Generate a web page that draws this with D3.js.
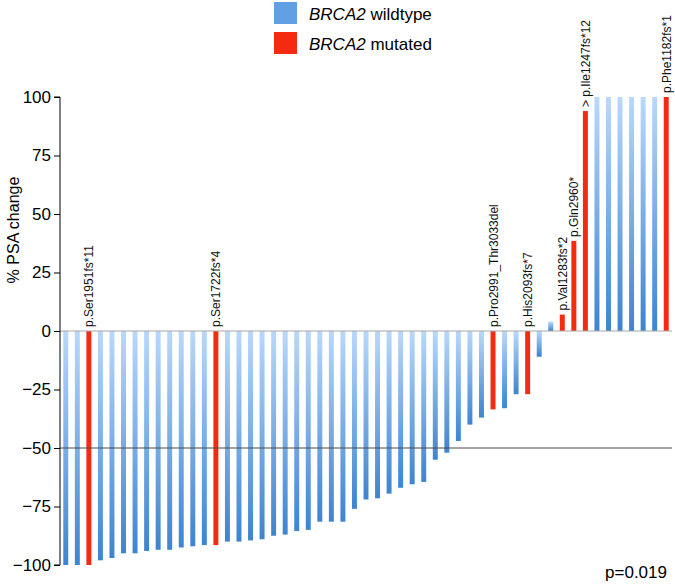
<!DOCTYPE html>
<html>
<head>
<meta charset="utf-8">
<script src="https://cdn.jsdelivr.net/npm/d3@7"></script>
<style>
  html, body { margin: 0; padding: 0; background: #fff; }
  svg { display: block; font-family: Arial, "Liberation Sans", sans-serif; }
</style>
</head>
<body>
<div id="chart"></div>
<script>
// % PSA change per patient, sorted (waterfall)
const psaChange = [
  -100, -100, -100, -98, -97, -95, -95, -94, -93.5, -93.5,
  -92.5, -92, -91.5, -91.5, -90, -90, -89.5, -89, -87.5, -87,
  -85.5, -85, -81.5, -81.5, -81.5, -76, -72, -71.5, -69.5, -67,
  -65.5, -64.5, -55, -52, -47, -40, -37, -33.5, -33, -27,
  -27, -11, 4, 7, 38.5, 94, 100, 100, 100, 100,
  100, 100, 100
];
// patients with BRCA2 mutation and their variant
const mutatedIndex = [2, 13, 37, 40, 43, 44, 45, 52];
const mutationLabels = [
  "p.Ser1951fs*11", "p.Ser1722fs*4", "p.Pro2991_Thr3033del", "p.His2093fs*7",
  "p.Val1283fs*2", "p.Gln2960*", "> p.Ile1247fs*12", "p.Phe1182fs*1"
];
const yTicks = [-100, -75, -50, -25, 0, 25, 50, 75, 100];
const legendLabels = ["wildtype", "mutated"];

const width = 675, height = 586;
const plot = { left: 60, right: 672, top: 97, bottom: 565 };
const blue = "#62a0e4", red = "#f42b10";

const svg = d3.select("#chart").append("svg")
  .attr("width", width)
  .attr("height", height);

const defs = svg.append("defs");
const grad = defs.append("linearGradient")
  .attr("id", "blueGrad")
  .attr("x1", 0).attr("y1", 0).attr("x2", 0).attr("y2", 1);
grad.append("stop").attr("offset", "0%").attr("stop-color", "#b9d8fb");
grad.append("stop").attr("offset", "100%").attr("stop-color", "#3d84d0");

const x = d3.scaleBand()
  .domain(d3.range(psaChange.length))
  .range([plot.left, plot.right])
  .paddingInner(0.57)
  .paddingOuter(0.285);

const y = d3.scaleLinear()
  .domain([-100, 100])
  .range([plot.bottom, plot.top]);

// bars
const mutated = new Set(mutatedIndex);
svg.append("g")
  .selectAll("rect")
  .data(psaChange)
  .enter()
  .append("rect")
  .attr("x", (d, i) => x(i))
  .attr("width", x.bandwidth())
  .attr("y", d => y(Math.max(0, Math.min(100, d))))
  .attr("height", d => Math.abs(y(Math.min(100, d)) - y(0)))
  .attr("fill", (d, i) => mutated.has(i) ? red : "url(#blueGrad)");

// reference lines
svg.append("line")
  .attr("x1", plot.left).attr("x2", plot.right)
  .attr("y1", y(0)).attr("y2", y(0))
  .attr("stroke", "#a6a6a6").attr("stroke-width", 1);

svg.append("line")
  .attr("x1", plot.left).attr("x2", plot.right)
  .attr("y1", y(-50)).attr("y2", y(-50))
  .attr("stroke", "#4a4a4a").attr("stroke-width", 1);

// y axis
const yAxis = svg.append("g")
  .attr("transform", `translate(${plot.left},0)`)
  .call(d3.axisLeft(y).tickValues(yTicks).tickSize(6).tickPadding(3));
yAxis.select(".domain").attr("stroke", "#000").attr("d", `M-6,${y(100)}H0V${y(-100)}H-6`);
yAxis.selectAll(".tick line").attr("stroke", "#000");
yAxis.selectAll(".tick text")
  .attr("fill", "#000")
  .style("font-size", "17px")
  .style("font-family", "Arial, 'Liberation Sans', sans-serif");

svg.append("text")
  .attr("transform", `translate(19,230) rotate(-90)`)
  .attr("text-anchor", "middle")
  .style("font-size", "16px")
  .text("% PSA change");

// mutation labels
svg.append("g")
  .selectAll("text")
  .data(mutatedIndex)
  .enter()
  .append("text")
  .attr("transform", i => {
    const cx = x(i) + x.bandwidth() / 2 + 4.5;
    const top = y(Math.max(0, Math.min(100, psaChange[i]))) - 4;
    return `translate(${cx},${top}) rotate(-90)`;
  })
  .style("font-size", "12px")
  .attr("fill", "#111")
  .text((d, k) => mutationLabels[k]);

// legend
const legend = svg.append("g");
legendLabels.forEach((lab, k) => {
  const g = legend.append("g").attr("transform", `translate(274,${2 + k * 30})`);
  g.append("rect").attr("width", 23).attr("height", 22).attr("fill", k === 0 ? blue : red);
  const t = g.append("text").attr("x", 35).attr("y", 18).style("font-size", "17px");
  t.append("tspan").style("font-style", "italic").text("BRCA2");
  t.append("tspan").text(" " + lab);
});

svg.append("text")
  .attr("x", 667).attr("y", 578)
  .attr("text-anchor", "end")
  .style("font-size", "17px")
  .text("p=0.019");
</script>
</body>
</html>
